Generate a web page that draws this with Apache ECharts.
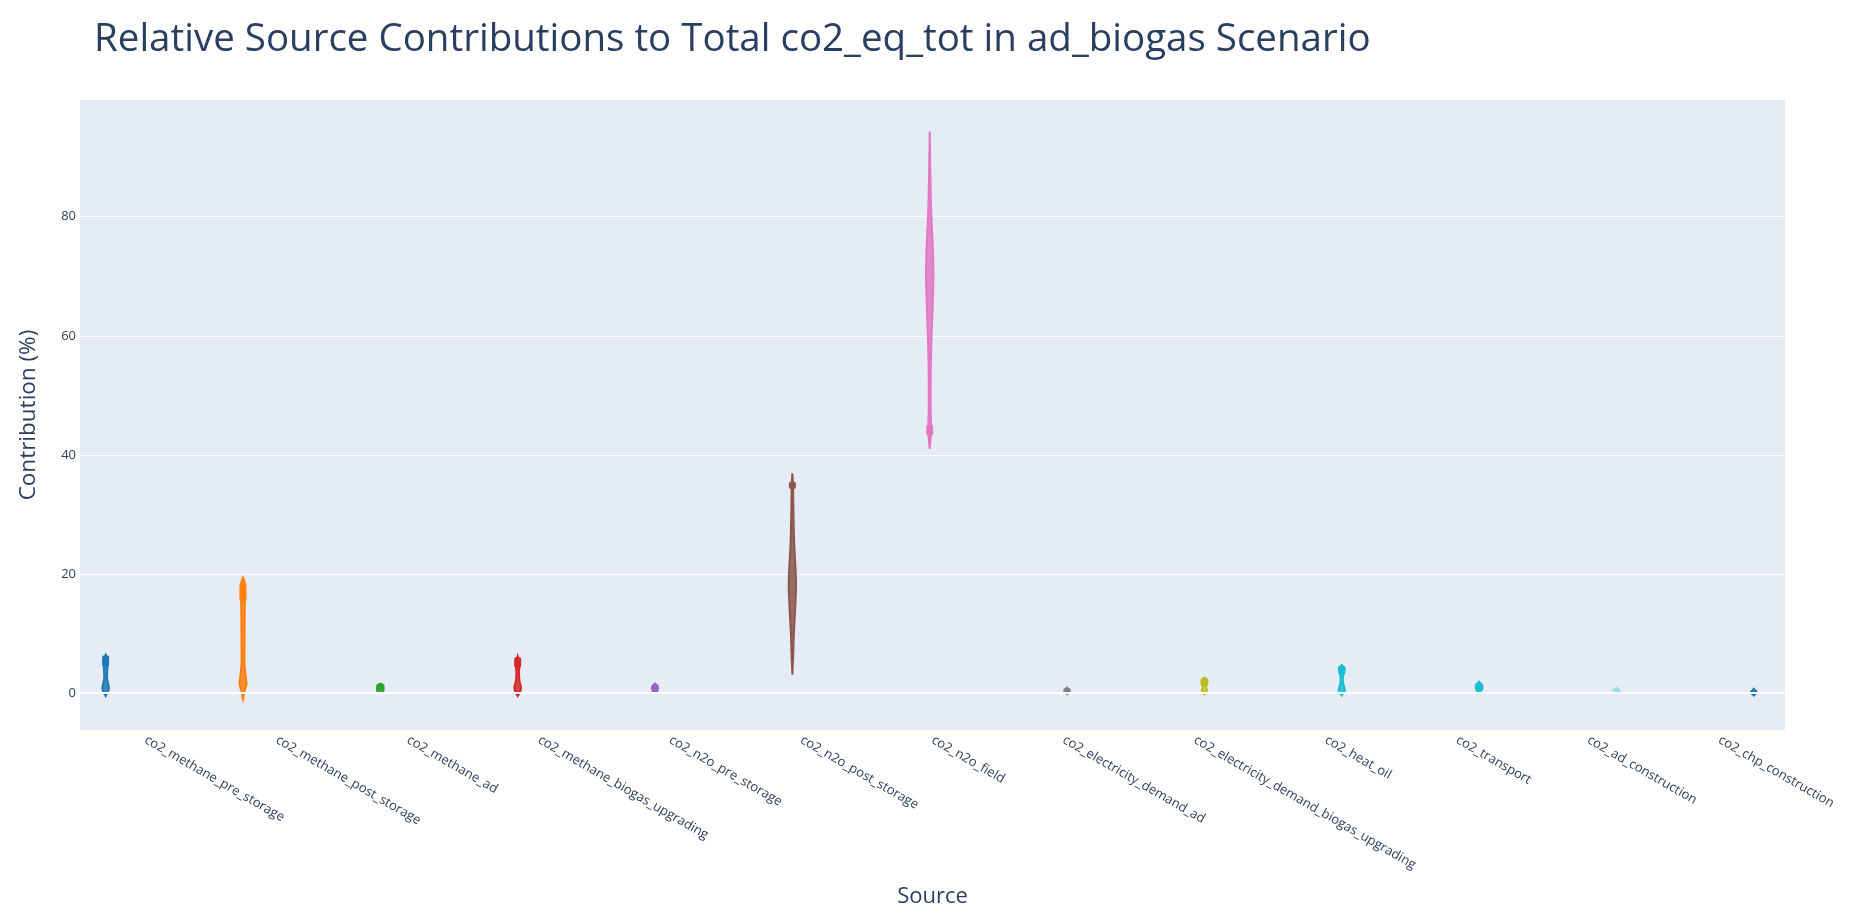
<!DOCTYPE html>
<html>
<head>
<meta charset="utf-8">
<title>Relative Source Contributions</title>
<script src="https://cdn.jsdelivr.net/npm/echarts@6/dist/echarts.min.js"></script>
<style>
  html, body { margin: 0; padding: 0; background: #fff; }
  #chart { width: 1863px; height: 915px; }
</style>
</head>
<body>
<div id="chart"></div>
<script>
// Sources (x categories)
const sources = [
    'co2_methane_pre_storage', 'co2_methane_post_storage', 'co2_methane_ad',
    'co2_methane_biogas_upgrading', 'co2_n2o_pre_storage', 'co2_n2o_post_storage',
    'co2_n2o_field', 'co2_electricity_demand_ad', 'co2_electricity_demand_biogas_upgrading',
    'co2_heat_oil', 'co2_transport', 'co2_ad_construction', 'co2_chp_construction'
];

const colors = [
    '#1f77b4', '#ff7f0e', '#2ca02c', '#d62728', '#9467bd', '#8c564b', '#e377c2',
    '#7f7f7f', '#bcbd22', '#17becf', '#17becf', '#9edae5', '#1f77b4'
];

// Violin outlines: contribution levels (%) bottom -> top
const violinLevels = [
    [-0.5, 0.2, 0.8, 1.5, 2.5, 4.0, 5.5, 6.4],
    [-1.0, 0.5, 1.5, 3, 5, 8, 12, 15, 17, 18.8, 19.4],
    [0, 0.3, 0.8, 1.3, 1.6],
    [-0.5, 0.3, 1.0, 2, 3.5, 5, 6.2],
    [0, 0.3, 1.0, 1.6],
    [3.1, 6, 10, 14, 18, 21, 25, 30, 34, 36, 36.9],
    [41, 44, 48, 55, 60, 66, 70, 74, 78, 82, 88, 94.3],
    [-0.2, 0.2, 0.5, 0.9],
    [-0.2, 0.3, 0.7, 1.0, 1.4, 2.2, 2.6],
    [-0.4, 0.3, 1.0, 1.7, 3.0, 4.0, 4.7],
    [0.2, 0.6, 1.4, 1.9],
    [0, 0.4, 0.9],
    [-0.4, 0.1, 0.7]
];
// ...and the relative density (width) at each level
const violinWidths = [
    [0, 0.6, 0.9, 0.7, 0.4, 0.45, 0.6, 0],
    [0, 0.5, 0.95, 0.7, 0.4, 0.4, 0.45, 0.5, 0.6, 0.4, 0],
    [0, 0.8, 0.9, 0.8, 0],
    [0, 0.7, 0.9, 0.5, 0.35, 0.55, 0],
    [0, 0.6, 0.8, 0],
    [0, 0.2, 0.4, 0.75, 1.0, 0.85, 0.5, 0.3, 0.2, 0.1, 0],
    [0, 0.4, 0.25, 0.3, 0.5, 0.85, 1.0, 0.9, 0.6, 0.35, 0.15, 0],
    [0, 0.6, 0.7, 0],
    [0, 0.7, 0.6, 0.35, 0.7, 0.8, 0],
    [0, 0.8, 0.7, 0.35, 0.4, 0.8, 0],
    [0, 0.8, 0.8, 0],
    [0, 0.9, 0],
    [0, 0.8, 0]
];

// Inner box (quartiles)
const boxLow  = [4.5, 15.5, 0.6, 4.4, 0.6, 34.3, 43.3, 0.1, 1.2, 3.2, 0.5, 0.3, -0.2];
const boxHigh = [6.3, 18.4, 1.4, 6.0, 1.5, 35.5, 45.0, 0.8, 2.5, 4.6, 1.7, 0.7, 0.5];

const yTicks = [0, 20, 40, 60, 80];

const FONT = '"Open Sans", verdana, arial, sans-serif';
const TEXT = '#2a3f5f';

const chart = echarts.init(document.getElementById('chart'));

function renderViolin(params, api) {
    const i = params.dataIndex;
    const band = api.size([1, 0])[0];
    // grouped violins: each trace shifted inside its category
    const cx = api.coord([i, 0])[0] + (i - 6.45) * 0.0472 * band;
    const half = band * 0.028;
    const levels = violinLevels[i];
    const widths = violinWidths[i];
    const right = [];
    const left = [];
    levels.forEach((v, k) => {
        const y = api.coord([i, v])[1];
        right.push([cx + widths[k] * half, y]);
        left.push([cx - widths[k] * half, y]);
    });
    const pts = right.concat(left.reverse());
    const yl = api.coord([i, boxLow[i]])[1];
    const yh = api.coord([i, boxHigh[i]])[1];
    const c = colors[i];
    return {
        type: 'group',
        children: [
            {
                type: 'polygon',
                shape: { points: pts, smooth: 0.2 },
                style: { fill: echarts.color.modifyAlpha(c, 0.85), stroke: c, lineWidth: 2 }
            },
            {
                type: 'rect',
                shape: { x: cx - half * 0.95, y: yh, width: half * 1.9, height: Math.max(yl - yh, 2), r: 1.5 },
                style: { fill: c }
            }
        ]
    };
}

const option = {
    backgroundColor: '#fff',
    textStyle: { fontFamily: FONT },
    title: {
        text: 'Relative Source Contributions to Total co2_eq_tot in ad_biogas Scenario',
        left: 89,
        top: 16,
        textStyle: { fontFamily: FONT, fontSize: 38.5, fontWeight: 'normal', color: TEXT }
    },
    grid: {
        left: 80, right: 78, top: 100, bottom: 185,
        show: true, backgroundColor: '#e5ecf6', borderWidth: 0
    },
    xAxis: {
        type: 'category',
        data: sources,
        name: 'Source',
        nameLocation: 'middle',
        nameGap: 156,
        nameTextStyle: { fontSize: 22, color: TEXT, fontFamily: FONT },
        axisLine: { show: false },
        axisTick: { show: false },
        splitLine: { show: false },
        axisLabel: { rotate: -30, fontSize: 13, color: TEXT, margin: 9, fontFamily: FONT, interval: 0 }
    },
    yAxis: {
        type: 'value',
        min: -6.2,
        max: 99.6,
        name: 'Contribution (%)',
        nameLocation: 'middle',
        nameGap: 40,
        nameTextStyle: { fontSize: 22.5, color: TEXT, fontFamily: FONT },
        axisLine: { show: false },
        axisTick: { show: false, customValues: yTicks },
        axisLabel: { fontSize: 13, color: TEXT, margin: 4, fontFamily: FONT, customValues: yTicks },
        splitLine: { show: true, lineStyle: { color: '#ffffff', width: 1 } }
    },
    series: [
        {
            type: 'line',
            data: [],
            silent: true,
            z: 1,
            markLine: {
                silent: true,
                symbol: 'none',
                label: { show: false },
                lineStyle: { color: '#ffffff', width: 2, type: 'solid' },
                data: [{ yAxis: 0 }]
            }
        },
        {
            type: 'custom',
            z: 3,
            renderItem: renderViolin,
            data: sources.map((s, i) => [i, boxHigh[i]])
        }
    ]
};

chart.setOption(option);
</script>
</body>
</html>
